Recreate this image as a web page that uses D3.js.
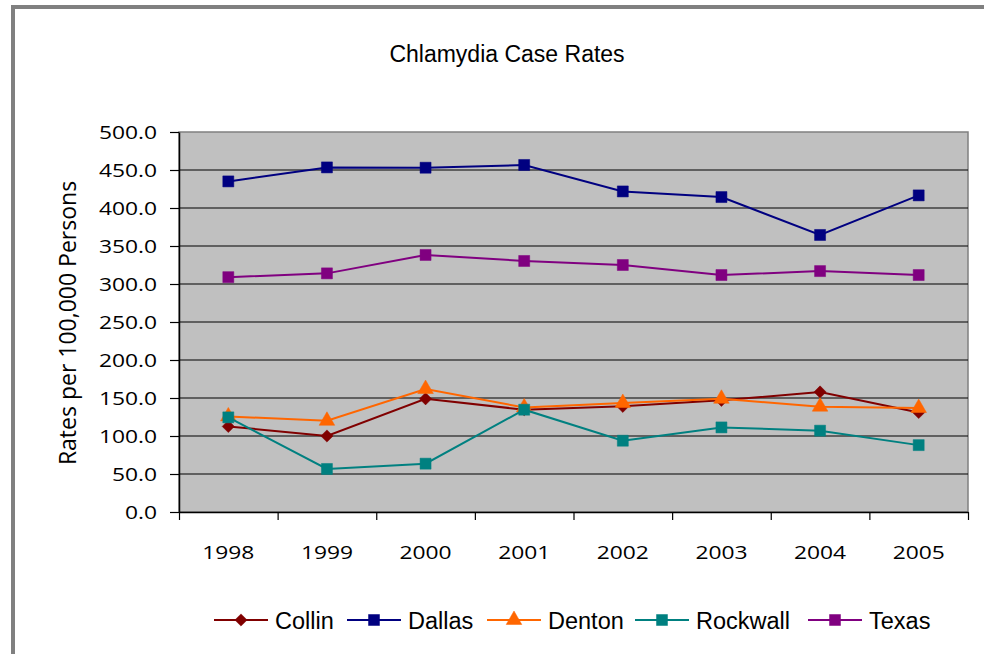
<!DOCTYPE html>
<html>
<head>
<meta charset="utf-8">
<script src="https://cdn.jsdelivr.net/npm/d3@7"></script>
<style>
  html, body { margin: 0; padding: 0; background: #fff; }
  svg { display: block; }
</style>
</head>
<body>
<svg id="chart" width="984" height="654"></svg>
<script>
// Chlamydia case rates per 100,000 persons, 1998-2005
const years = ["1998", "1999", "2000", "2001", "2002", "2003", "2004", "2005"];
const collin   = [112.6, 100.0, 149.0, 134.6, 139.0, 146.9, 157.9, 131.0];
const dallas   = [435.0, 453.4, 453.0, 456.6, 421.8, 414.4, 364.5, 416.6];
const denton   = [125.8, 120.0, 161.8, 137.6, 143.4, 149.0, 138.6, 136.8];
const rockwall = [124.5,  56.6,  63.6, 134.6,  93.8, 111.3, 107.0,  88.0];
const texas    = [309.0, 314.0, 338.2, 330.3, 325.0, 311.8, 317.0, 311.8];
const yTicks   = [0, 50, 100, 150, 200, 250, 300, 350, 400, 450, 500];

const series = [
  { name: "Collin",   values: collin,   color: "#800000", shape: "diamond" },
  { name: "Dallas",   values: dallas,   color: "#000080", shape: "square" },
  { name: "Denton",   values: denton,   color: "#FF6600", shape: "triangle" },
  { name: "Rockwall", values: rockwall, color: "#008080", shape: "square" },
  { name: "Texas",    values: texas,    color: "#800080", shape: "square" }
];

const svg = d3.select("#chart");
const plot = { left: 179, right: 968, top: 132, bottom: 512 };
const tickFont = "'Open Sans', sans-serif";
const sx = 1.2; // horizontal stretch for the numeric labels

// outer frame (left and top edges)
svg.append("rect").attr("x", 11).attr("y", 5).attr("width", 973).attr("height", 4).attr("fill", "#808080");
svg.append("rect").attr("x", 11).attr("y", 5).attr("width", 4).attr("height", 649).attr("fill", "#808080");

const x = d3.scaleBand().domain(years).range([plot.left, plot.right]).paddingInner(0).paddingOuter(0);
const y = d3.scaleLinear().domain([0, 500]).range([plot.bottom, plot.top]);
const xEdge = d3.scaleLinear().domain([0, years.length]).range([plot.left, plot.right]);

// plot background
svg.append("rect")
  .attr("x", plot.left).attr("y", plot.top)
  .attr("width", plot.right - plot.left).attr("height", plot.bottom - plot.top)
  .attr("fill", "#C0C0C0").attr("stroke", "#808080").attr("stroke-width", 1.5);

// horizontal gridlines
svg.append("g").selectAll("line")
  .data(yTicks.filter(t => t > 0 && t < 500))
  .join("line")
  .attr("x1", plot.left).attr("x2", plot.right)
  .attr("y1", d => y(d)).attr("y2", d => y(d))
  .attr("stroke", "#000").attr("stroke-width", 1.2);

// y axis
const yAxis = svg.append("g")
  .attr("transform", `translate(${plot.left},0)`)
  .call(d3.axisLeft(y).tickValues(yTicks).tickSize(9).tickSizeOuter(0).tickFormat(d3.format(".1f")));
yAxis.select(".domain").attr("stroke", "#000").attr("stroke-width", 1.5);
yAxis.selectAll(".tick line").attr("stroke", "#000").attr("stroke-width", 1.2);
yAxis.selectAll(".tick text")
  .attr("x", 0)
  .attr("transform", `translate(-22,0) scale(${sx},1)`)
  .attr("font-family", tickFont).attr("font-size", 19).attr("fill", "#000");

// x axis: boundary ticks
const xAxis = svg.append("g")
  .attr("transform", `translate(0,${plot.bottom})`)
  .call(d3.axisBottom(xEdge).tickValues(d3.range(years.length + 1)).tickSize(8).tickSizeOuter(0).tickFormat(""));
xAxis.select(".domain").attr("stroke", "#000").attr("stroke-width", 1.5);
xAxis.selectAll(".tick line").attr("stroke", "#000").attr("stroke-width", 1.2);

// x category labels
svg.append("g").selectAll("text")
  .data(years)
  .join("text")
  .attr("transform", d => `translate(${x(d) + x.bandwidth() / 2},559) scale(${sx},1)`)
  .attr("text-anchor", "middle")
  .attr("font-family", tickFont).attr("font-size", 19).attr("fill", "#000")
  .text(d => d);

// marker symbols; the diamond is a square turned 45 degrees
const squareDiamond = {
  draw(context, size) {
    const r = Math.sqrt(size) / 2;
    context.moveTo(0, -r);
    context.lineTo(r, 0);
    context.lineTo(0, r);
    context.lineTo(-r, 0);
    context.closePath();
  }
};
const symbolFor = {
  diamond:  d3.symbol().type(squareDiamond).size(150),
  square:   d3.symbol().type(d3.symbolSquare).size(121),
  triangle: d3.symbol().type(d3.symbolTriangle).size(105)
};

const line = d3.line()
  .x((d, i) => x(years[i]) + x.bandwidth() / 2)
  .y(d => y(d));

series.forEach(s => {
  const g = svg.append("g");
  g.append("path")
    .attr("d", line(s.values))
    .attr("fill", "none").attr("stroke", s.color).attr("stroke-width", 2);
  g.selectAll("path.marker")
    .data(s.values)
    .join("path")
    .attr("class", "marker")
    .attr("transform", (d, i) => `translate(${x(years[i]) + x.bandwidth() / 2},${y(d)})`)
    .attr("d", symbolFor[s.shape]())
    .attr("fill", s.color)
    .attr("stroke", s.color).attr("stroke-opacity", 0.5).attr("stroke-width", 1);
});

// title
svg.append("text")
  .attr("x", 507).attr("y", 62)
  .attr("text-anchor", "middle")
  .attr("font-family", "'Liberation Sans', Arial, sans-serif").attr("font-size", 23).attr("fill", "#000")
  .text("Chlamydia Case Rates");

// y axis title
svg.append("text")
  .attr("transform", "translate(76,323) rotate(-90)")
  .attr("text-anchor", "middle")
  .attr("font-family", "'Open Sans', sans-serif").attr("font-size", 23).attr("fill", "#000")
  .text("Rates per 100,000 Persons");

// legend
const legendX = [214, 347, 487, 635, 808];
const legend = svg.append("g");
series.forEach((s, i) => {
  const g = legend.append("g").attr("transform", `translate(${legendX[i]},620)`);
  g.append("line").attr("x1", 0).attr("x2", 54).attr("y1", 0).attr("y2", 0)
    .attr("stroke", s.color).attr("stroke-width", 2);
  g.append("path").attr("transform", "translate(27,0)")
    .attr("d", symbolFor[s.shape]())
    .attr("fill", s.color).attr("stroke", s.color).attr("stroke-opacity", 0.5);
  g.append("text").attr("x", 61).attr("y", 8.5)
    .attr("font-family", "'Liberation Sans', Arial, sans-serif").attr("font-size", 23.5).attr("fill", "#000")
    .text(s.name);
});
</script>
</body>
</html>
